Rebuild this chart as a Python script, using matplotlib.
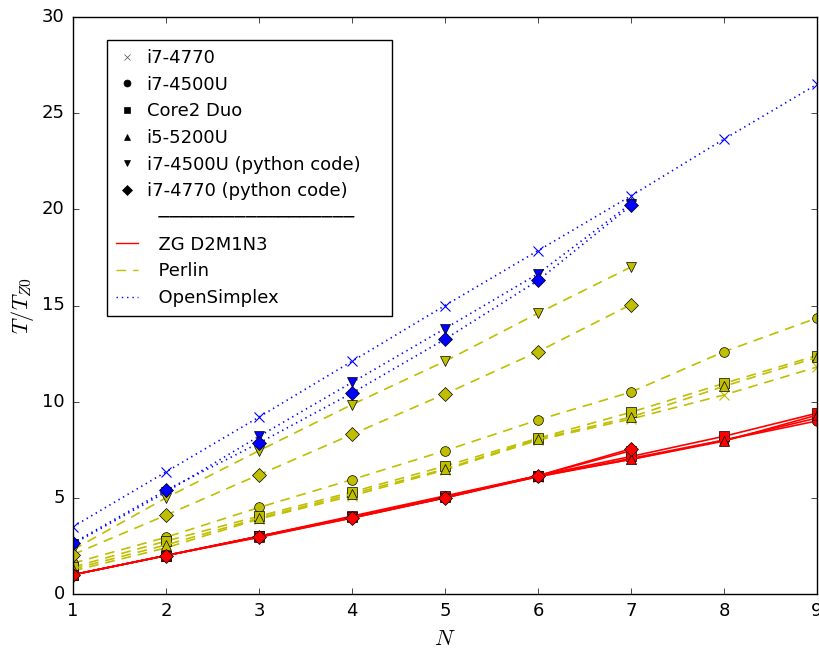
import matplotlib
matplotlib.use("Agg")
import matplotlib.pyplot as plt
from matplotlib.lines import Line2D

plt.style.use("classic")
plt.rcParams["font.family"] = ["DejaVu Sans"]
plt.rcParams["mathtext.fontset"] = "cm"

# ---- data ----
N9 = [1, 2, 3, 4, 5, 6, 7, 8, 9]
N7 = [1, 2, 3, 4, 5, 6, 7]

cpu_labels = ["i7-4770", "i7-4500U", "Core2 Duo", "i5-5200U",
              "i7-4500U (python code)", "i7-4770 (python code)"]
algo_labels = ["ZG D2M1N3", "Perlin", "OpenSimplex"]

# ZG D2M1N3
zg_i7_4770 = [1.0, 2.0, 3.0, 4.0, 5.05, 6.1, 7.0, 8.0, 9.15]
zg_i7_4500u = [1.0, 2.0, 3.0, 3.95, 5.0, 6.1, 7.05, 8.0, 9.0]
zg_core2 = [1.0, 2.0, 3.0, 4.05, 5.1, 6.15, 7.15, 8.2, 9.4]
zg_i5_5200u = [1.0, 2.0, 2.95, 4.0, 5.05, 6.15, 7.0, 7.95, 9.3]
zg_i7_4500u_py = [1.0, 2.0, 3.0, 4.0, 5.0, 6.15, 7.45]
zg_i7_4770_py = [1.0, 2.0, 2.95, 3.95, 5.0, 6.15, 7.55]

# Perlin
perlin_i7_4770 = [1.2, 2.4, 3.9, 5.1, 6.45, 8.0, 9.1, 10.35, 11.8]
perlin_i7_4500u = [1.6, 2.95, 4.5, 5.95, 7.45, 9.05, 10.5, 12.6, 14.35]
perlin_core2 = [1.4, 2.75, 4.05, 5.3, 6.65, 8.1, 9.45, 10.95, 12.4]
perlin_i5_5200u = [1.3, 2.55, 3.95, 5.2, 6.5, 8.05, 9.2, 10.8, 12.3]
perlin_i7_4500u_py = [2.3, 5.0, 7.45, 9.85, 12.1, 14.6, 17.0]
perlin_i7_4770_py = [2.05, 4.1, 6.2, 8.3, 10.4, 12.6, 15.05]

# OpenSimplex
os_i7_4770 = [3.5, 6.35, 9.2, 12.1, 15.0, 17.85, 20.7, 23.65, 26.5]
os_i7_4500u_py = [2.6, 5.3, 8.2, 11.0, 13.8, 16.65, 20.3]
os_i7_4770_py = [2.65, 5.4, 7.85, 10.45, 13.25, 16.3, 20.2]

# ---- figure ----
fig = plt.figure(figsize=(8.19, 6.52), dpi=100, facecolor="white")
ax = fig.add_axes([73 / 819, 58 / 652, 744 / 819, 577 / 652])

RED, YEL, BLU = "r", "y", "b"
MS = 7
LW = 1.2


def style(ls):
    if ls == "--":
        return dict(linestyle=(0, (7, 5)))
    if ls == ":":
        return dict(linestyle=(0, (1, 2.8)))
    return dict(linestyle="-")


def draw(x, y, color, ls, marker):
    mec = color if marker == "x" else "k"
    ax.plot(x, y, color=color, linewidth=LW, marker=marker,
            markersize=MS, markeredgecolor=mec, markerfacecolor=color,
            markeredgewidth=0.5 if marker != "x" else 0.8, **style(ls))


series = [
    ("x", [(N9, zg_i7_4770, RED, "-"), (N9, perlin_i7_4770, YEL, "--"), (N9, os_i7_4770, BLU, ":")]),
    ("o", [(N9, zg_i7_4500u, RED, "-"), (N9, perlin_i7_4500u, YEL, "--")]),
    ("s", [(N9, zg_core2, RED, "-"), (N9, perlin_core2, YEL, "--")]),
    ("^", [(N9, zg_i5_5200u, RED, "-"), (N9, perlin_i5_5200u, YEL, "--")]),
    ("v", [(N7, zg_i7_4500u_py, RED, "-"), (N7, perlin_i7_4500u_py, YEL, "--"), (N7, os_i7_4500u_py, BLU, ":")]),
    ("D", [(N7, zg_i7_4770_py, RED, "-"), (N7, perlin_i7_4770_py, YEL, "--"), (N7, os_i7_4770_py, BLU, ":")]),
]
for marker, items in series:
    for x, y, c, ls in items:
        draw(x, y, c, ls, marker)

ax.set_xlim(1, 9)
ax.set_ylim(0, 30)
ax.set_xticks(range(1, 10))
ax.set_yticks(range(0, 31, 5))
ax.tick_params(direction="in", length=4, top=True, right=True, labelsize=13, pad=6)
ax.set_xlabel("$N$", fontsize=16, labelpad=6)
ax.set_ylabel("$T/T_{Z0}$", fontsize=16, labelpad=4)

# ---- legend ----
handles, labels = [], []
for m, lab in zip(["x", "o", "s", "^", "v", "D"], cpu_labels):
    handles.append(Line2D([], [], color="k", marker=m, linestyle="None",
                          markersize=5, markeredgewidth=0.5,
                          markeredgecolor="k" if m != "x" else "0.3"))
    labels.append(lab + ("    " if "4500U (python" in lab else ""))
handles.append(Line2D([], [], linestyle="None"))
labels.append("  " + "\u2500" * 18)
for c, ls, lab in zip([RED, YEL, BLU], ["-", "--", ":"], algo_labels):
    handles.append(Line2D([], [], color=c, linewidth=1.0, **style(ls)))
    labels.append("  " + lab)

leg = ax.legend(handles, labels, loc="upper left",
                bbox_to_anchor=((107 - 73) / 744, (594 - 40) / 577),
                borderaxespad=0, numpoints=1, fontsize=13,
                handlelength=1.2, handletextpad=0.5, labelspacing=0.48,
                borderpad=0.5, fancybox=False, frameon=True)
leg.get_frame().set_edgecolor("k")
leg.get_frame().set_linewidth(1.0)

fig.savefig("out.png", dpi=100, facecolor="white")
